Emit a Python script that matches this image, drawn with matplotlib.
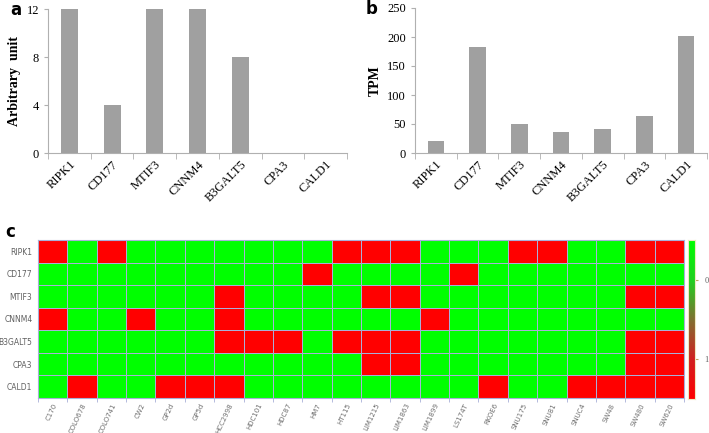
import numpy as np
import matplotlib
matplotlib.use('Agg')
import matplotlib.pyplot as plt
from matplotlib.colors import LinearSegmentedColormap

genes = ['RIPK1', 'CD177', 'MTIF3', 'CNNM4', 'B3GALT5', 'CPA3', 'CALD1']
arbitrary = [12, 4, 12, 12, 8, 0, 0]
tpm = [21, 182, 50, 37, 41, 63, 202]

cell_lines = ['C170', 'COLO678', 'COLO741', 'CW2', 'GP2d', 'GP5d', 'HCC2998', 'HDC101',
              'HDC87', 'HM7', 'HT115', 'LIM1215', 'LIM1863', 'LIM1899', 'LS174T', 'RKOE6',
              'SNU175', 'SNU81', 'SNUC4', 'SW48', 'SW480', 'SW620']

# 1 = red, 0 = green
ripk1   = [1,0,1,0,0,0,0,0,0,0,1,1,1,0,0,0,1,1,0,0,1,1]
cd177   = [0,0,0,0,0,0,0,0,0,1,0,0,0,0,1,0,0,0,0,0,0,0]
mtif3   = [0,0,0,0,0,0,1,0,0,0,0,1,1,0,0,0,0,0,0,0,1,1]
cnnm4   = [1,0,0,1,0,0,1,0,0,0,0,0,0,1,0,0,0,0,0,0,0,0]
b3galt5 = [0,0,0,0,0,0,1,1,1,0,1,1,1,0,0,0,0,0,0,0,1,1]
cpa3    = [0,0,0,0,0,0,0,0,0,0,0,1,1,0,0,0,0,0,0,0,1,1]
cald1   = [0,1,0,0,1,1,1,0,0,0,0,0,0,0,0,1,0,0,1,1,1,1]
matrix = np.array([ripk1, cd177, mtif3, cnnm4, b3galt5, cpa3, cald1])

W, H = 709, 433
fig = plt.figure(figsize=(W / 100, H / 100), dpi=100)

serif = 'Liberation Serif'
spine_col = '#b0b0b0'
bar_col = '#a0a0a0'
grid_col = '#a8b0d8'


def px_axes(x0, y0, x1, y1):
    return fig.add_axes([x0 / W, 1 - y1 / H, (x1 - x0) / W, (y1 - y0) / H])


def bar_panel(ax, vals, ymax, step, ylabel):
    x = np.arange(len(genes))
    ax.bar(x, vals, width=0.4, color=bar_col)
    ax.set_xlim(-0.5, len(genes) - 0.5)
    ax.set_ylim(0, ymax)
    ax.set_yticks(np.arange(0, ymax + 1, step))
    ax.set_xticks(x)
    ax.set_xticklabels(genes, rotation=45, ha='right', rotation_mode='anchor',
                       fontsize=9, family=serif)
    ax.set_xticks(np.arange(-0.5, len(genes)), minor=True)
    ax.tick_params(axis='x', which='major', length=0, pad=4)
    ax.tick_params(axis='x', which='minor', length=4, color=spine_col)
    ax.tick_params(axis='y', length=3, color=spine_col, labelsize=9)
    for lbl in ax.get_yticklabels():
        lbl.set_family(serif)
    for s in ['top', 'right']:
        ax.spines[s].set_visible(False)
    for s in ['left', 'bottom']:
        ax.spines[s].set_color(spine_col)
    ax.set_ylabel(ylabel, fontsize=10, family=serif, fontweight='bold')


ax_a = px_axes(48, 9, 347, 153)
bar_panel(ax_a, arbitrary, 12, 4, 'Arbitrary  unit')
ax_b = px_axes(415, 8, 707, 153)
bar_panel(ax_b, tpm, 250, 50, 'TPM')

fig.text(10 / W, 1 - 10 / H, 'a', fontsize=12, fontweight='bold', va='center')
fig.text(366 / W, 1 - 9 / H, 'b', fontsize=12, fontweight='bold', va='center')
fig.text(5 / W, 1 - 232 / H, 'c', fontsize=12, fontweight='bold', va='center')

# heatmap
ax_c = px_axes(38, 240, 684, 398)
cmap = LinearSegmentedColormap.from_list('gr', [(0, '#00ff00'), (1, '#ff0000')])
ax_c.pcolormesh(matrix, cmap=cmap, vmin=0, vmax=1, edgecolors=grid_col, linewidth=0.6)
ax_c.set_xlim(0, len(cell_lines))
ax_c.set_ylim(len(genes), 0)
ax_c.set_yticks(np.arange(len(genes)) + 0.5)
ax_c.set_yticklabels(genes, fontsize=5.5, color='#606060')
ax_c.set_xticks(np.arange(len(cell_lines)) + 0.5)
ax_c.set_xticklabels(cell_lines, rotation=65, ha='right', rotation_mode='anchor',
                     fontsize=5, color='#707070')
ax_c.set_xticks(np.arange(len(cell_lines) + 1), minor=True)
ax_c.tick_params(axis='x', which='major', length=0, pad=3)
ax_c.tick_params(axis='x', which='minor', length=3, color=grid_col)
ax_c.tick_params(axis='y', length=0, pad=4)
for s in ax_c.spines.values():
    s.set_color(grid_col)
    s.set_linewidth(0.8)

# colorbar
ax_cb = px_axes(688, 240, 695, 399)
cb_vals = np.linspace(-0.5, 1.5, 200).reshape(-1, 1)
cb_cmap = LinearSegmentedColormap.from_list(
    'cb', [(0, '#00ff00'), (0.25, '#20d020'), (0.5, '#807030'), (0.75, '#d02020'), (1, '#ff0000')])
ax_cb.imshow(cb_vals, aspect='auto', cmap=cb_cmap, extent=[0, 1, 1.5, -0.5])
ax_cb.set_ylim(1.5, -0.5)
ax_cb.set_xticks([])
ax_cb.yaxis.tick_right()
ax_cb.set_yticks([0, 1])
ax_cb.set_yticklabels(['0', '1'], fontsize=6, family=serif, color='#606060')
ax_cb.tick_params(axis='y', length=2, color='#c0a060', pad=5)
for s in ax_cb.spines.values():
    s.set_color('#f0e8c0')

fig.savefig('out.png', dpi=100)
